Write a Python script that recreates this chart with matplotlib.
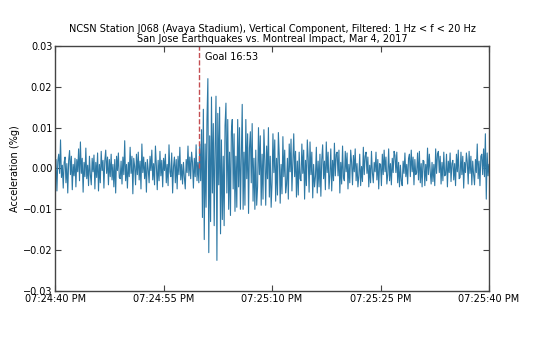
import datetime as dt
import matplotlib
matplotlib.use("Agg")
import matplotlib.pyplot as plt
import matplotlib.dates as mdates
import numpy as np

# vertical acceleration, 8 samples per second, units of 1e-4 %g
start = dt.datetime(2017, 3, 4, 19, 24, 40)
rate = 8
accel = [
    -30, 22, -55, 18, 35, -12, 70, -22,
    8, -48, 15, 28, -35, 12, -60, 20,
    44, -15, 30, -52, 10, -18, 25, -45,
    22, -8, 48, -30, 65, -12, 25, -58,
    15, -20, 50, -25, 8, -42, 30, -15,
    -40, 25, -8, 33, -50, 15, -22, 38,
    -55, 10, -35, 42, -5, 20, -48, 20,
    45, -12, 28, -40, 22, -20, 35, -28,
    10, -45, 22, -60, 30, -5, 38, -22,
    -25, 18, -38, 28, -15, 68, -30, 10,
    -48, 15, -20, 52, -12, 30, -62, 25,
    5, -40, 35, -15, 40, -28, 18, -50,
    60, -10, 28, -25, 15, -58, 22, -2,
    -35, 30, -5, 45, -28, 12, -40, 55,
    8, -52, 20, -30, 42, -18, 20, -45,
    25, -5, 35, -35, 10, -42, 58, -8,
    -20, 38, -60, 5, 28, -35, 22, -50,
    30, -15, 52, -28, 10, -38, 15, -22,
    -50, 22, -10, 55, -18, 28, -25, 40,
    15, -48, 25, -20, 58, -30, 15, -35,
    60, -30, 95, -120, 145, -174, 60, -95,
    120, 220, -206, 80, -130, 175, -60, 110,
    -140, 55, 177, -225, 135, -40, 150, -160,
    70, -125, 30, -140, 105, 160, -60, 120,
    -100, 40, -115, 90, 120, -50, 85, -105,
    30, -95, 120, -45, 100, -100, 25, 157,
    -100, 40, -90, 120, -25, 85, -110, 50,
    90, -35, 110, -80, 25, -100, 45, -90,
    -45, 100, -15, 80, -90, 35, -75, 95,
    20, -90, 55, -25, 100, -70, 30, -95,
    -35, 85, -10, 70, -80, 25, -65, 88,
    30, -85, 10, -62, 78, -20, 45, -60,
    -40, 25, -75, 60, -8, 72, -55, 15,
    85, -20, 42, -70, 18, -65, 40, -25,
    -30, 60, -12, 45, -75, 20, -42, 70,
    25, -58, 65, -15, 40, -72, 10, -45,
    -20, 52, -60, 18, -45, 35, -68, 22,
    58, -25, 18, -52, 65, -10, 40, -50,
    -15, 48, -55, 20, -30, 62, -18, 35,
    40, -18, 45, -60, 15, -38, 55, -22,
    -30, 42, -8, 38, -50, 10, -35, 45,
    15, -40, 32, -8, 48, -30, 12, -45,
    -18, 35, -42, 5, -32, 52, -15, 30,
    40, -12, 28, -45, 8, -35, 42, -10,
    -35, 15, -8, 40, -28, 22, -50, 12,
    10, -42, 35, -15, 45, -8, 28, -38,
    -15, 48, -30, 12, -40, 25, -10, 42,
    32, -10, 40, -35, 15, -45, 8, -30,
    -42, 18, -12, 38, -20, 10, -38, 25,
    35, -20, 45, -8, 28, -40, 22, -15,
    -10, 38, -28, 42, -35, 12, -45, 20,
    18, -42, 10, -30, 50, -15, 35, -8,
    -38, 15, -32, 10, -42, 48, -12, 35,
    42, -10, 30, -38, 15, -30, 40, -18,
    -15, 35, -45, 18, -10, 38, -32, 12,
    20, -28, 12, -42, 35, -8, 45, -25,
    -22, 40, -15, 30, -48, 15, -10, 38,
    15, -38, 42, -12, 30, -40, 18, -15,
    -40, 22, -10, 60, -25, 18, -42, 30,
    35, -15, 48, -20, 85, -75, 38, -18,
    10,
]
goal_time = dt.datetime(2017, 3, 4, 19, 24, 59, 900000)
goal_label = "Goal 16:53"

times = [start + dt.timedelta(seconds=i / rate) for i in range(len(accel))]
values = np.array(accel) * 1e-4

fig = plt.figure(figsize=(5.35, 3.38), dpi=100)
ax = fig.add_axes([0.103, 0.139, 0.811, 0.725])

ax.plot(times, values, color="#2e79a5", lw=0.8)
ax.axvline(goal_time, ymin=0.5, ymax=1.0, color="#c44e52", ls="--", lw=1.0)
ax.text(goal_time + dt.timedelta(seconds=0.8), 0.0272, goal_label,
        fontsize=7, va="center")

ax.set_xlim(start, start + dt.timedelta(seconds=60))
ax.set_ylim(-0.03, 0.03)
ax.set_yticks(np.arange(-0.03, 0.031, 0.01))
ax.xaxis.set_major_locator(mdates.SecondLocator(bysecond=[10, 25, 40, 55]))
ax.xaxis.set_major_formatter(mdates.DateFormatter("%I:%M:%S %p"))

ax.tick_params(direction="in", top=True, right=True, length=4,
               labelsize=7, color="#444444", pad=2)
for s in ax.spines.values():
    s.set_color("#444444")
    s.set_linewidth(1.0)

ax.set_ylabel("Acceleration (%g)", fontsize=7, labelpad=2)
ax.set_title("NCSN Station J068 (Avaya Stadium), Vertical Component, "
             "Filtered: 1 Hz < f < 20 Hz\n"
             "San Jose Earthquakes vs. Montreal Impact, Mar 4, 2017",
             fontsize=7, pad=3, linespacing=1.0)

fig.savefig("out.png", dpi=100)
